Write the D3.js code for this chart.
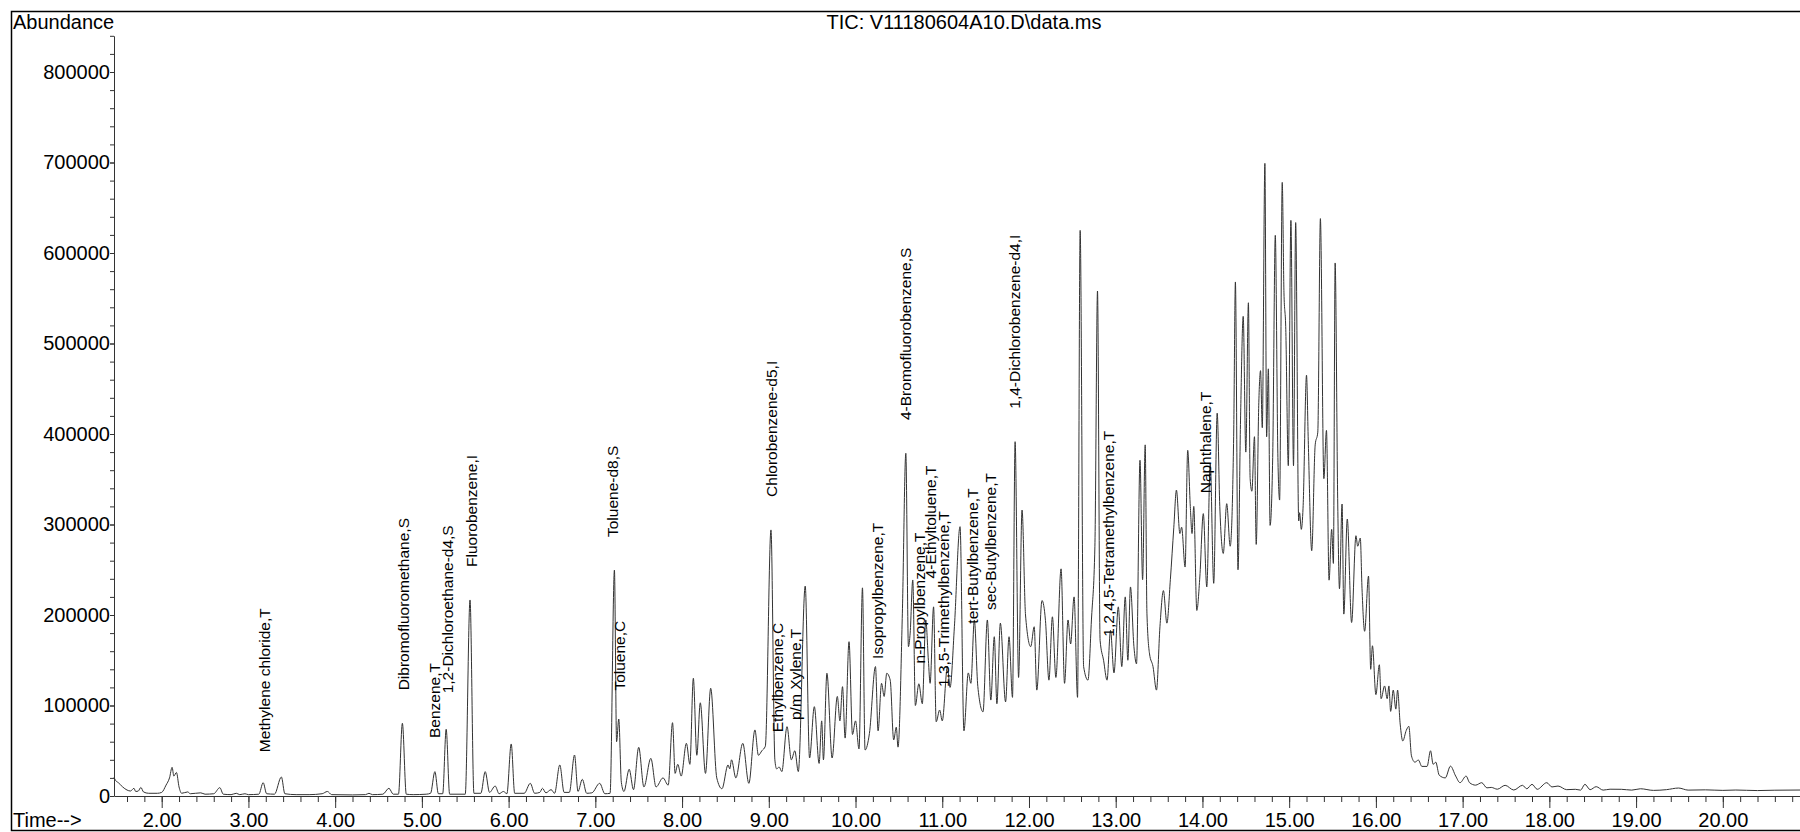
<!DOCTYPE html>
<html>
<head>
<meta charset="utf-8">
<script src="https://cdn.jsdelivr.net/npm/d3@7"></script>
<style>
    body { margin: 0; background: #fff; }
    text { font-family: "Liberation Sans", Arial, sans-serif; fill: #000; }
</style>
</head>
<body>
<div id="chart"></div>
<script>
// total ion chromatogram, [time (min), abundance]
const tic = [
    [1.45, 20600], [1.47, 17000], [1.50, 14700], [1.55, 10000], [1.60, 6600], [1.64, 5500], [1.68, 8500],
    [1.70, 5000], [1.73, 5500], [1.76, 9500], [1.79, 4500], [1.85, 3000], [1.95, 3000], [2.00, 4000],
    [2.05, 12000], [2.09, 20000], [2.12, 31700], [2.14, 22000], [2.17, 26000], [2.20, 10000], [2.23, 3000],
    [2.30, 4500], [2.33, 2500], [2.45, 3500], [2.50, 2000], [2.60, 2500], [2.67, 9200], [2.71, 2000],
    [2.80, 1500], [2.86, 3000], [2.90, 1500], [2.96, 2500], [3.00, 1500], [3.12, 2000], [3.17, 14700],
    [3.21, 2500], [3.30, 2000], [3.38, 21000], [3.42, 2500], [3.55, 1500], [3.70, 1500], [3.85, 2500],
    [3.91, 5000], [3.96, 1500], [4.20, 1200], [4.35, 1500], [4.39, 3000], [4.43, 1500], [4.55, 2000],
    [4.62, 8500], [4.67, 2000], [4.73, 2000], [4.775, 80300], [4.82, 2000], [4.90, 1500], [5.05, 2000],
    [5.10, 3000], [5.15, 26900], [5.19, 2500], [5.24, 2500], [5.28, 73700], [5.32, 2000], [5.50, 2000],
    [5.555, 216600], [5.60, 3000], [5.68, 3000], [5.73, 26900], [5.78, 4000], [5.845, 11000], [5.89, 2500],
    [5.94, 5000], [5.98, 2500], [6.03, 57500], [6.07, 3000], [6.18, 3000], [6.25, 14000], [6.30, 3000],
    [6.36, 4000], [6.39, 8500], [6.43, 3500], [6.49, 7000], [6.53, 3000], [6.59, 34300], [6.64, 4000],
    [6.70, 4000], [6.76, 45300], [6.80, 5000], [6.85, 18400], [6.90, 3000], [6.96, 3500], [7.05, 14000],
    [7.11, 2500], [7.17, 3000], [7.22, 249700], [7.245, 60000], [7.27, 85000], [7.30, 15000], [7.33, 5000],
    [7.39, 29500], [7.44, 7000], [7.50, 53800], [7.56, 10000], [7.64, 41600], [7.70, 10000], [7.78, 20000],
    [7.84, 12000], [7.89, 81000], [7.92, 25000], [7.95, 35000], [7.99, 22000], [8.05, 58200], [8.09, 35000],
    [8.13, 130000], [8.17, 45000], [8.21, 103000], [8.27, 25000], [8.33, 119000], [8.40, 20000], [8.46, 8000],
    [8.53, 34300], [8.55, 30000], [8.57, 40000], [8.62, 20000], [8.70, 58200], [8.77, 14000], [8.84, 73000],
    [8.88, 45000], [8.92, 50000], [8.96, 55000], [9.025, 294000], [9.07, 40000], [9.09, 30000], [9.12, 32000],
    [9.15, 27000], [9.21, 76600], [9.26, 40000], [9.30, 50000], [9.34, 27000], [9.42, 232000], [9.47, 42000],
    [9.525, 98700], [9.58, 36000], [9.61, 83000], [9.63, 40000], [9.67, 135600], [9.73, 42000], [9.79, 110000],
    [9.82, 83000], [9.85, 120800], [9.88, 64000], [9.925, 170500], [9.965, 68000], [10.00, 83000], [10.04, 52000],
    [10.08, 230000], [10.11, 50800], [10.16, 69000], [10.23, 143000], [10.26, 72000], [10.30, 124500],
    [10.33, 110000], [10.36, 135600], [10.40, 128000], [10.44, 61900], [10.47, 76000], [10.49, 54000],
    [10.54, 202000], [10.58, 378700], [10.61, 165000], [10.63, 180000], [10.66, 238700], [10.69, 100000],
    [10.73, 124000], [10.77, 102000], [10.81, 194500], [10.84, 150000], [10.86, 124500], [10.90, 209000],
    [10.93, 82000], [10.97, 95000], [11.00, 83000], [11.06, 143000], [11.09, 120000], [11.14, 187000],
    [11.205, 297600], [11.25, 72000], [11.30, 136000], [11.33, 124500], [11.37, 194500], [11.41, 121000],
    [11.47, 93000], [11.52, 194500], [11.56, 106000], [11.60, 176000], [11.63, 102000], [11.67, 191000],
    [11.73, 104000], [11.77, 176000], [11.81, 109000], [11.84, 391500], [11.88, 131000], [11.92, 316000],
    [11.96, 200000], [12.02, 165000], [12.06, 187000], [12.09, 117000], [12.15, 216000], [12.19, 194000],
    [12.23, 128000], [12.27, 198000], [12.31, 131000], [12.37, 251000], [12.41, 124500], [12.45, 194500],
    [12.48, 168000], [12.52, 220000], [12.56, 109000], [12.59, 625000], [12.63, 143000], [12.68, 128000],
    [12.72, 194500], [12.76, 276000], [12.79, 558000], [12.82, 172000], [12.86, 150000], [12.90, 128000],
    [12.94, 183000], [12.98, 136000], [13.03, 209000], [13.07, 143000], [13.11, 220000], [13.14, 150000],
    [13.17, 231000], [13.21, 165000], [13.24, 146000], [13.28, 371000], [13.31, 239000], [13.34, 388000],
    [13.36, 202000], [13.39, 157000], [13.43, 143000], [13.47, 117000], [13.51, 187000], [13.55, 227000],
    [13.59, 191000], [13.63, 239000], [13.67, 297000], [13.70, 338000], [13.74, 290000], [13.76, 297000],
    [13.80, 253000], [13.83, 382000], [13.86, 320000], [13.88, 290000], [13.90, 320000], [13.935, 205000],
    [13.97, 242000], [14.01, 312000], [14.05, 231000], [14.09, 367000], [14.13, 235000], [14.17, 423000],
    [14.20, 320000], [14.24, 268000], [14.28, 323000], [14.32, 276000], [14.36, 397000], [14.38, 568000],
    [14.41, 250000], [14.44, 420000], [14.47, 530000], [14.50, 380000], [14.53, 545000], [14.55, 350700],
    [14.57, 336700], [14.60, 397000], [14.62, 278000], [14.65, 435000], [14.67, 470000], [14.69, 407000],
    [14.72, 699000], [14.74, 397000], [14.76, 472000], [14.78, 299000], [14.81, 374000], [14.84, 619500],
    [14.87, 374000], [14.89, 327000], [14.92, 678000], [14.94, 556000], [14.96, 519000], [14.99, 365000],
    [15.02, 636000], [15.05, 365000], [15.075, 633600], [15.11, 304000], [15.12, 313000], [15.14, 294600],
    [15.16, 318000], [15.20, 465000], [15.22, 393000], [15.26, 271000], [15.30, 388000], [15.33, 402000],
    [15.36, 638000], [15.40, 350700], [15.43, 404000], [15.46, 238500], [15.49, 294600], [15.51, 257000],
    [15.53, 589000], [15.56, 322600], [15.58, 229000], [15.61, 322600], [15.63, 201000], [15.67, 306000],
    [15.72, 191700], [15.77, 287600], [15.79, 276000], [15.82, 285000], [15.84, 229000], [15.87, 182000],
    [15.915, 243000], [15.94, 140000], [15.96, 166000], [16.00, 112000], [16.04, 145000], [16.06, 107500],
    [16.10, 121600], [16.13, 107500], [16.15, 121600], [16.17, 93500], [16.20, 117000], [16.23, 96000],
    [16.25, 117000], [16.28, 79500], [16.31, 60800], [16.35, 72500], [16.38, 77000], [16.41, 44400],
    [16.45, 37400], [16.49, 39700], [16.53, 32700], [16.59, 32700], [16.63, 50000], [16.66, 35000],
    [16.69, 37400], [16.73, 23000], [16.80, 20000], [16.86, 33000], [16.92, 22000], [16.97, 14700],
    [17.04, 22000], [17.08, 14700], [17.15, 12000], [17.22, 14700], [17.28, 9000], [17.33, 9500],
    [17.40, 7500], [17.49, 11800], [17.59, 6600], [17.69, 11800], [17.74, 8000], [17.80, 12900],
    [17.86, 7400], [17.97, 14700], [18.03, 10000], [18.10, 11000], [18.20, 7000], [18.30, 7400],
    [18.36, 6500], [18.41, 12900], [18.47, 7000], [18.54, 10300], [18.62, 6500], [18.70, 7500],
    [18.83, 7400], [18.95, 6500], [19.05, 8000], [19.20, 6200], [19.35, 7000], [19.49, 8800],
    [19.60, 6500], [19.80, 6800], [20.00, 6200], [20.15, 6600], [20.40, 6000], [20.60, 6400], [20.89, 6600]
];

// compound labels: name, retention time, abundance of the labelled peak
const labelNames = [
    "Methylene chloride,T", "Dibromofluoromethane,S", "Benzene,T", "1,2-Dichloroethane-d4,S",
    "Fluorobenzene,I", "Toluene-d8,S", "Toluene,C", "Chlorobenzene-d5,I", "Ethylbenzene,C",
    "p/m Xylene,T", "Isopropylbenzene,T", "4-Bromofluorobenzene,S", "n-Propylbenzene,T",
    "4-Ethyltoluene,T", "1,3,5-Trimethylbenzene,T", "tert-Butylbenzene,T", "sec-Butylbenzene,T",
    "1,4-Dichlorobenzene-d4,I", "1,2,4,5-Tetramethylbenzene,T", "Naphthalene,T"
];
const labelTimes = [3.18, 4.785, 5.14, 5.30, 5.57, 7.20, 7.28, 9.03, 9.10, 9.31,
    10.25, 10.58, 10.74, 10.87, 11.01, 11.35, 11.56, 11.83, 12.92, 14.03];
const labelAbund = [12000, 80300, 27600, 77000, 216600, 249700, 80000, 294000, 34000, 47500,
    115000, 379000, 110000, 204000, 84000, 154000, 169000, 391500, 139600, 298000];

const xMajorTicks = d3.range(2, 21, 1);
const xMinorTicks = d3.range(16, 209, 2).map(d => d / 10);
const yMajorTicks = d3.range(0, 800001, 100000);
const yMinorTicks = d3.range(0, 840001, 20000);

const titleText = "TIC: V11180604A10.D\\data.ms";

class Chromatogram {

    constructor(parentElement) {
        this.parentElement = parentElement
        this.initVis()
    }

    initVis() {
        let vis = this

        vis.width = 1800
        vis.height = 832

        vis.svg = d3.select("#" + vis.parentElement).append("svg")
            .attr("width", vis.width)
            .attr("height", vis.height)
            .style("display", "block")

        vis.x = d3.scaleLinear().domain([1.45, 20.89]).range([114, 1800])
        vis.y = d3.scaleLinear().domain([0, 840000]).range([796, 35.8])

        // outer frame
        vis.svg.append("path")
            .attr("d", "M1800,11.5 H11.5 V830.5 H1800")
            .attr("fill", "none").attr("stroke", "#000").attr("stroke-width", 1.5)

        vis.svg.append("text").attr("x", 13).attr("y", 29).attr("font-size", 20).text("Abundance")
        vis.svg.append("text").attr("x", 964).attr("y", 29).attr("font-size", 20)
            .attr("text-anchor", "middle").text(titleText)
        vis.svg.append("text").attr("x", 13).attr("y", 827).attr("font-size", 20).text("Time-->")

        vis.updateVis()
    }

    updateVis() {
        let vis = this

        // y axis
        vis.svg.append("g").attr("transform", "translate(114,0)")
            .call(d3.axisLeft(vis.y).tickValues(yMinorTicks).tickSize(4).tickSizeOuter(0).tickFormat(""))
            .call(g => g.selectAll("line, path").attr("stroke", "#333"))
        vis.svg.append("g").attr("transform", "translate(114,0)")
            .call(d3.axisLeft(vis.y).tickValues(yMajorTicks).tickSize(4).tickPadding(0).tickFormat(d3.format("d")))
            .call(g => g.select(".domain").remove())
            .call(g => g.selectAll("line").attr("stroke", "#333"))
            .call(g => g.selectAll("text").attr("font-size", 20).attr("font-family", null).attr("fill", "#000"))

        // x axis
        vis.svg.append("g").attr("transform", "translate(0,796)")
            .call(d3.axisBottom(vis.x).tickValues(xMinorTicks).tickSize(6).tickSizeOuter(0).tickFormat(""))
            .call(g => g.selectAll("line, path").attr("stroke", "#333"))
        vis.svg.append("g").attr("transform", "translate(0,796)")
            .call(d3.axisBottom(vis.x).tickValues(xMajorTicks).tickSize(12).tickPadding(5).tickFormat(d3.format(".2f")))
            .call(g => g.select(".domain").remove())
            .call(g => g.selectAll("line").attr("stroke", "#333"))
            .call(g => g.selectAll("text").attr("font-size", 20).attr("font-family", null).attr("fill", "#000"))

        // trace
        vis.svg.append("path")
            .datum(tic)
            .attr("fill", "none")
            .attr("stroke", "#333")
            .attr("stroke-width", 1)
            .attr("stroke-linejoin", "round")
            .attr("d", d3.line().curve(d3.curveMonotoneX).x(d => vis.x(d[0])).y(d => vis.y(d[1])))

        // peak labels, written upward from just above the peak
        vis.svg.append("g").selectAll("text")
            .data(labelNames)
            .join("text")
            .attr("font-size", 15.5)
            .attr("transform", (d, i) => "translate(" + (vis.x(labelTimes[i]) + 5.5) + "," + (vis.y(labelAbund[i]) - 33) + ") rotate(-90)")
            .text(d => d)
    }
}

new Chromatogram("chart")
</script>
</body>
</html>
